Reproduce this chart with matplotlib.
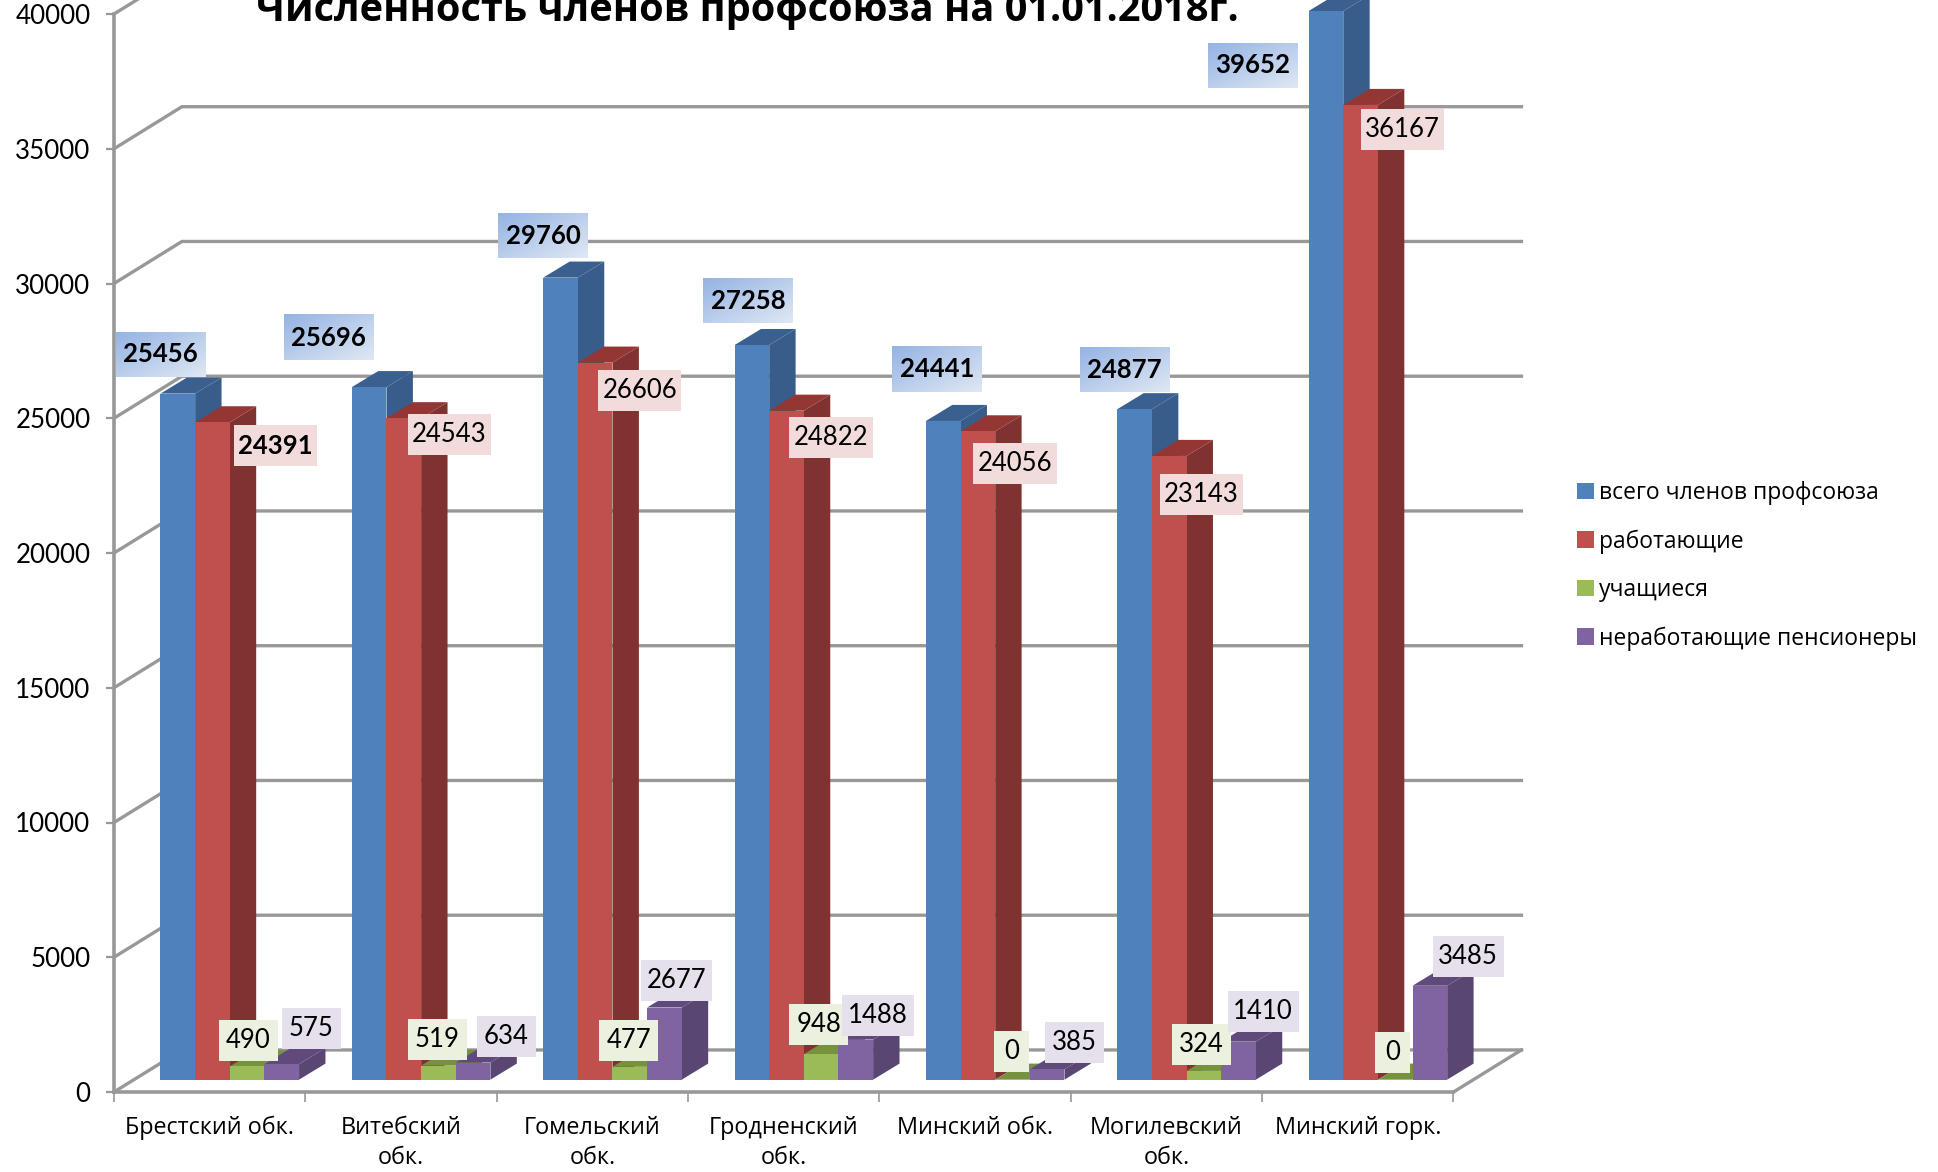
import numpy as np
import matplotlib
matplotlib.use('Agg')
from matplotlib import pyplot as plt
from matplotlib.colors import LinearSegmentedColormap
from matplotlib.patches import Rectangle

regions = ['Брестский обк.', 'Витебский\nобк.', 'Гомельский\nобк.', 'Гродненский\nобк.',
           'Минский обк.', 'Могилевский\nобк.', 'Минский горк.']
series_names = ['всего членов профсоюза', 'работающие', 'учащиеся', 'неработающие пенсионеры']
total = [25456, 25696, 29760, 27258, 24441, 24877, 39652]
working = [24391, 24543, 26606, 24822, 24056, 23143, 36167]
students = [490, 519, 477, 948, 0, 324, 0]
pensioners = [575, 634, 2677, 1488, 385, 1410, 3485]
y_ticks = [0, 5000, 10000, 15000, 20000, 25000, 30000, 35000, 40000]

front_col = ['#4F81BD', '#C0504D', '#9BBB59', '#8064A2']
side_col = ['#385D8A', '#7F3230', '#76923C', '#5A4673']
top_col = ['#3A6090', '#943634', '#76923C', '#604A7B']
box_col = [None, '#F2DCDB', '#EBF1DE', '#E6E0EC']
grid_col = '#989898'

# hand placed data labels, offset from the top middle of the bar, in pixels of the shrunk picture
off_total = [(-14, -32), (-33, -40), (-14, -34), (-3, -36), (-5, -42), (-8, -32), (-59, 44)]
off_working = [(51, 19), (37, 13.5), (36, 22.5), (36, 21.6), (30, 26), (26, 31), (34, 20)]
off_students = [(1, -21), (-1, -21), (-1, -21), (-2, -24), (-1, -23), (-2, -21), (-2, -22)]
off_pens = [(24, -28.5), (27, -21), (10, -22), (18, -19.5), (22, -22), (20, -24), (31, -24)]
shrink = 1938 / 1568

W, H = 1938, 1172
fig = plt.figure(figsize=(W / 100, H / 100), dpi=100)
ax = fig.add_axes([114 / W, 80 / H, (1453.5 - 114) / W, (1092 - 14) / H])
ax.set_xlim(0, 7)
ax.set_ylim(0, 40000)

font = 'Open Sans'
num_font = 'Lato'

# depth of the fake 3d floor and of the bars, in data units
wall_dx, wall_dy = 0.355, 1560
lift_dx, lift_dy = 0.105, 458
bar_dx, bar_dy = 0.138, 596
bar_w = 0.181
gap = 0.138

# walls
for v in y_ticks:
    ax.plot([0, wall_dx, 7 + wall_dx], [v, v + wall_dy, v + wall_dy], color=grid_col, lw=2.4,
            clip_on=False, zorder=1, solid_joinstyle='miter')
ax.plot([7, 7 + wall_dx], [0, wall_dy], color=grid_col, lw=2.4, clip_on=False, zorder=1)

all_series = [total, working, students, pensioners]
offsets = [off_total, off_working, off_students, off_pens]
idx = np.arange(7)

for s, vals in enumerate(all_series):
    vals = np.array(vals)
    left = idx + gap + lift_dx + s * bar_w
    base = lift_dy
    z = 3 + s * 0.1
    for x0, v in zip(left, vals):
        x1 = x0 + bar_w
        ytop = base + v
        ax.fill([x1, x1 + bar_dx, x1 + bar_dx, x1], [base, base + bar_dy, ytop + bar_dy, ytop],
                color=side_col[s], lw=0, zorder=z, clip_on=False)
        ax.fill([x0, x0 + bar_dx, x1 + bar_dx, x1], [ytop, ytop + bar_dy, ytop + bar_dy, ytop],
                color=top_col[s], lw=0, zorder=z, clip_on=False)
    ax.bar(left, vals, bar_w, bottom=base, align='edge', color=front_col[s], lw=0,
           zorder=z + 0.05, label=series_names[s], clip_on=False)

# data labels
to_data = ax.transData.inverted()
grad = LinearSegmentedColormap.from_list('lab', ['#95B3E3', '#DFE8F4'])
ramp = np.add.outer(np.linspace(0, 1, 40), np.linspace(0, 1, 80)) / 2
for s, vals in enumerate(all_series):
    for i, v in enumerate(vals):
        px = ax.transData.transform((i + gap + lift_dx + (s + 0.5) * bar_w, lift_dy + v))
        cx = px[0] + offsets[s][i][0] * shrink
        cy = px[1] - offsets[s][i][1] * shrink
        n = len(str(v))
        bold = s == 0 or v == 24391
        bw = 22.5 + 12.2 * n + (6 if s == 0 else 0)
        bh = 45 if s == 0 else 41
        (x0, y0), (x1, y1) = to_data.transform([(cx - bw / 2, cy - bh / 2), (cx + bw / 2, cy + bh / 2)])
        if s == 0:
            ax.imshow(ramp, extent=(x0, x1, y0, y1), cmap=grad, aspect='auto', origin='upper',
                      zorder=9, clip_on=False)
        else:
            ax.add_patch(Rectangle((x0, y0), x1 - x0, y1 - y0, color=box_col[s], lw=0, zorder=9, clip_on=False))
        xt, yt = to_data.transform((cx, cy))
        ax.text(xt, yt, str(v), ha='center', va='center', fontsize=18.5, family=num_font,
                fontweight='bold' if bold else 'normal', color='black', zorder=10, clip_on=False)
ax.set_xlim(0, 7)
ax.set_ylim(0, 40000)

# axes
for sp in ['top', 'right']:
    ax.spines[sp].set_visible(False)
for sp in ['left', 'bottom']:
    ax.spines[sp].set_color(grid_col)
    ax.spines[sp].set_linewidth(2.6)
    ax.spines[sp].set_zorder(2)
ax.patch.set_alpha(0)
ax.set_yticks(y_ticks)
ax.set_yticklabels([str(v) for v in y_ticks], fontsize=18.7, family=num_font)
ax.tick_params(axis='y', length=6, width=1.6, color=grid_col, pad=11)
ax.set_xticks(np.arange(8))
ax.set_xticklabels([])
ax.tick_params(axis='x', which='major', length=7, width=1.2, color=grid_col)
ax.set_xticks(idx + 0.5, minor=True)
ax.set_xticklabels(regions, minor=True, fontsize=16.8, family=font, linespacing=1.38)
ax.tick_params(axis='x', which='minor', length=0, pad=17)

leg = ax.legend(loc='upper left', bbox_to_anchor=(1577 / W, (H - 481) / H), bbox_transform=fig.transFigure,
                frameon=False, handlelength=0.72, handleheight=0.72, handletextpad=0.23,
                labelspacing=1.06, borderpad=0, borderaxespad=0,
                prop={'family': font, 'size': 16.5})

fig.text(256 / W, (H - 21) / H, 'Численность членов профсоюза на 01.01.2018г.', fontsize=28.6,
         fontweight='bold', family=font, ha='left', va='baseline')

fig.savefig('out.png', dpi=100, facecolor='white')
